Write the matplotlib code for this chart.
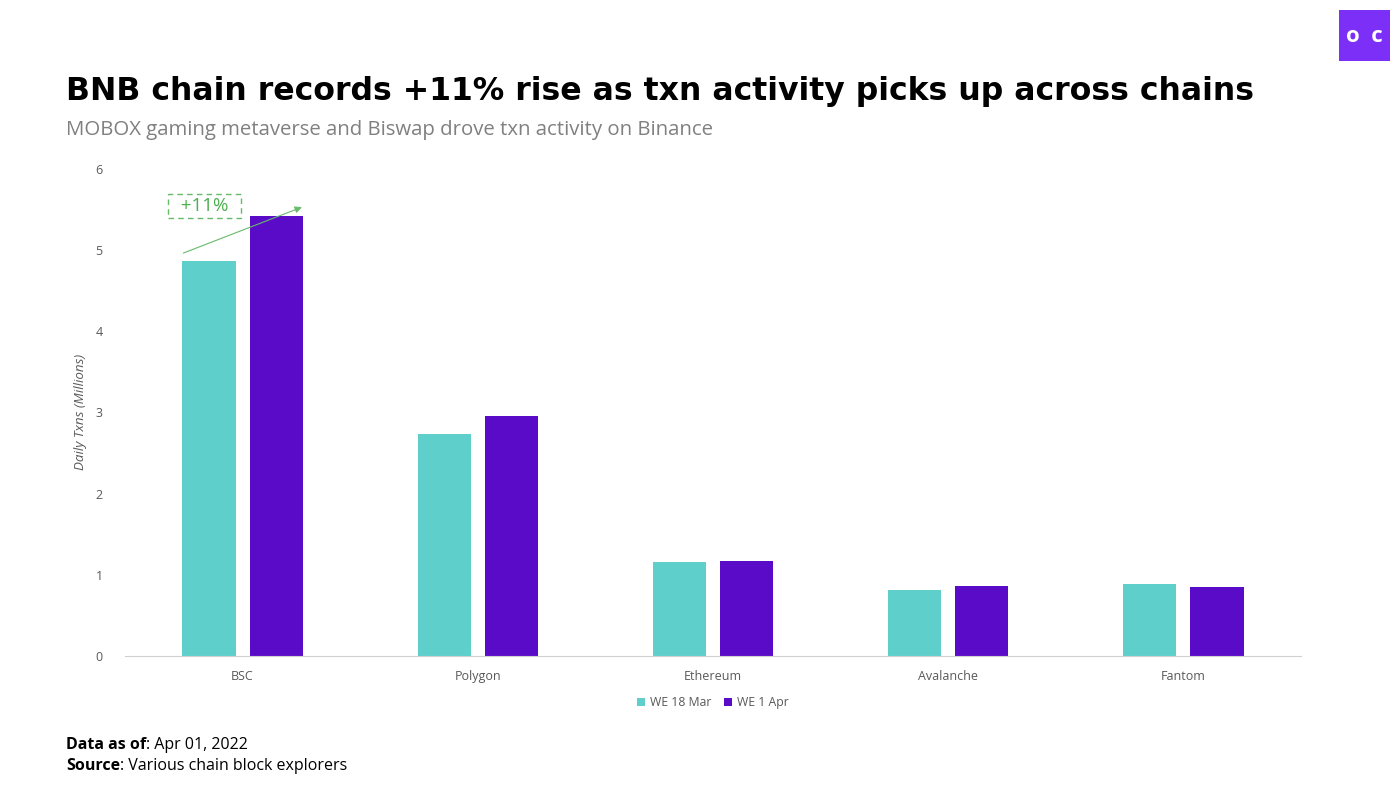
import numpy as np
import matplotlib.pyplot as plt
from matplotlib.patches import Rectangle

categories = ["BSC", "Polygon", "Ethereum", "Avalanche", "Fantom"]
we_18_mar = [4.87, 2.73, 1.16, 0.81, 0.89]
we_1_apr = [5.42, 2.96, 1.17, 0.86, 0.85]
series_names = ["WE 18 Mar", "WE 1 Apr"]
yticks = [0, 1, 2, 3, 4, 5, 6]

TEAL = "#5ecfcb"
PURPLE = "#5a0bc8"
GRAY = "#595959"
SANS = "Open Sans"

fig = plt.figure(figsize=(14, 7.87), dpi=100)
ax = fig.add_axes([0.0893, 0.1665, 0.84, 0.619])

x = np.arange(len(categories))
w = 0.226
off = 0.143
ax.bar(x - off, we_18_mar, w, color=TEAL, label=series_names[0])
ax.bar(x + off, we_1_apr, w, color=PURPLE, label=series_names[1])

ax.set_xlim(-0.5, len(categories) - 0.5)
ax.set_ylim(0, 6)
ax.set_yticks(yticks)
ax.set_xticks(x)
ax.set_xticklabels(categories, fontfamily=SANS)
ax.set_yticklabels([str(v) for v in yticks], fontfamily=SANS)
ax.tick_params(axis="both", length=0, labelsize=9, colors=GRAY, pad=10)
ax.tick_params(axis="y", pad=16)
for s in ["top", "right", "left"]:
    ax.spines[s].set_visible(False)
ax.spines["bottom"].set_color("#d0d0d0")
ax.set_ylabel("Daily Txns (Millions)", fontsize=9.6, color=GRAY, style="italic",
              labelpad=6, fontfamily=SANS)

leg = ax.legend(loc="upper center", bbox_to_anchor=(0.5, -0.06), ncol=2, frameon=False,
                prop={"family": SANS, "size": 8.8}, handlelength=0.7, handleheight=0.7,
                handletextpad=0.4, columnspacing=1.0, labelcolor=GRAY)

# +11% annotation on BSC
g = "#4caf50"
ax.annotate("", xy=(x[0] + off + 0.12, we_1_apr[0] + 0.12), xytext=(x[0] - off - 0.12, we_18_mar[0] + 0.08),
            arrowprops=dict(arrowstyle="-|>", color="#66bb6a", lw=0.8, mutation_scale=10))
pct = (we_1_apr[0] / we_18_mar[0] - 1) * 100
ax.text(x[0] - off - 0.02, 5.54, f"  +{pct:.0f}%  ", ha="center", va="center", fontsize=13.5,
        color=g, fontfamily=SANS,
        bbox=dict(boxstyle="square,pad=0.15", fc="white", ec="#66bb6a", ls=(0, (4, 3)), lw=1))

fig.text(0.047, 0.884, "BNB chain records +11% rise as txn activity picks up across chains",
         fontsize=22.7, fontweight="bold", color="black", va="center")
fig.text(0.047, 0.835, "MOBOX gaming metaverse and Biswap drove txn activity on Binance",
         fontsize=14.7, color="#808080", va="center", fontfamily=SANS)

for yy, bold, rest in [(0.053, "Data as of", ": Apr 01, 2022"),
                       (0.027, "Source", ": Various chain block explorers")]:
    t = fig.text(0.047, yy, bold, fontsize=11.5, fontweight="bold", color="black",
                 va="center", fontfamily=SANS)
    ax.annotate(rest, xy=(1, 0.5), xycoords=t, va="center", ha="left", fontsize=11.5,
                color="black", fontfamily=SANS)

# logo
fig.patches.append(Rectangle((0.9564, 0.922), 0.0365, 0.065, transform=fig.transFigure,
                             facecolor="#7b2ff7", edgecolor="none"))
fig.text(0.9746, 0.953, "o  c", fontsize=16, fontweight="bold", color="white",
         ha="center", va="center", fontfamily=SANS)

plt.savefig("out.png", dpi=100)
